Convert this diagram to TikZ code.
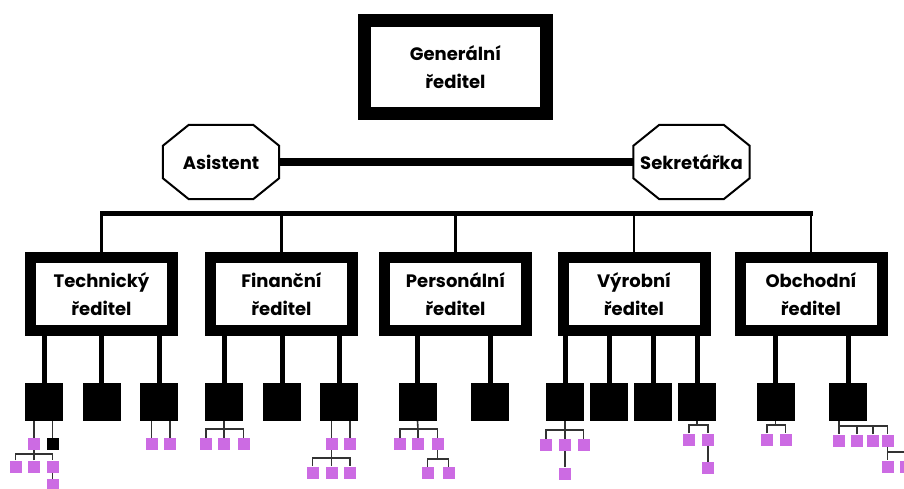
\documentclass[tikz,border=0pt]{standalone}
\usepackage{fontspec}
\setmainfont{Poppins}
\definecolor{pur}{HTML}{CC6BE3}
\newcommand\lbl{\bfseries\fontsize{18}{28}\selectfont}
\tikzset{
 big/.style={draw, line width=13pt, minimum width=182pt, minimum height=93pt, inner sep=0pt, align=center, font=\lbl},
 dir/.style={draw, line width=11pt, minimum width=142pt, minimum height=73pt, inner sep=0pt, align=center, font=\lbl},
 oct/.style={minimum width=116pt, minimum height=74pt, inner sep=0pt, font=\lbl},
 octline/.style={line width=2pt, line join=miter},
 sq/.style={fill=black, minimum size=38pt, inner sep=0pt},
 pp/.style={fill=pur, minimum size=12pt, inner sep=0pt},
 bs/.style={fill=black, minimum size=12pt, inner sep=0pt},
 thickln/.style={line width=5pt},
 thinln/.style={line width=1.6pt, draw=black!80},
 busln/.style={line width=5pt},
 dropln/.style={line width=2.5pt},
 pairln/.style={line width=8pt}
}
\begin{document}
\begin{tikzpicture}[x=1pt,y=-1pt]
\useasboundingbox (0,0) rectangle (904,489);
\clip (0,0) rectangle (904,489);
% top
\node[big] (G) at (455.5,67) {Generální\\ředitel};
\node[oct] (A) at (221,162) {Asistent};
\node[oct] (S) at (691.5,162) {Sekretářka};
\foreach \n in {A,S}{
 \draw[octline] ([xshift=26pt]\n.north west) -- ([xshift=-26pt]\n.north east) -- ([yshift=-21pt]\n.north east) -- ([yshift=21pt]\n.south east) -- ([xshift=-26pt]\n.south east) -- ([xshift=26pt]\n.south west) -- ([yshift=21pt]\n.south west) -- ([yshift=-21pt]\n.north west) -- cycle;
}
\draw[pairln] (A.east) -- (S.west);
% directors
\node[dir] (T) at (101.5,294) {Technický\\ředitel};
\node[dir] (F) at (281.5,294) {Finanční\\ředitel};
\node[dir] (P) at (455.5,294) {Personální\\ředitel};
\node[dir] (V) at (634,294) {Výrobní\\ředitel};
\node[dir] (O) at (811,294) {Obchodní\\ředitel};
\coordinate (busL) at (100,213.5);
\coordinate (busR) at (812.5,213.5);
\draw[busln] (busL) -- (busR);
\foreach \n in {T,F,P,V,O}{ \draw[dropln] (\n |- busL) -- (\n.north); }
% black squares
\node[sq] (T1) at (44,402) {};
\node[sq] (T2) at (101.5,402) {};
\node[sq] (T3) at (159,402) {};
\node[sq] (F1) at (224,402) {};
\node[sq] (F2) at (282,402) {};
\node[sq] (F3) at (339,402) {};
\node[sq] (P1) at (417.5,402) {};
\node[sq] (P2) at (490,402) {};
\node[sq] (V1) at (565,402) {};
\node[sq] (V2) at (609,402) {};
\node[sq] (V3) at (653,402) {};
\node[sq] (V4) at (697,402) {};
\node[sq] (O1) at (775.5,402) {};
\node[sq] (O2) at (848,402) {};
\foreach \p/\c in {T/T1,T/T2,T/T3,F/F1,F/F2,F/F3,P/P1,P/P2,V/V1,V/V2,V/V3,V/V4,O/O1,O/O2}{
 \draw[thickln] (\c |- \p.south) -- (\c.north);
}
% Technicky T1
\node[pp] (ta) at (34,444) {};
\node[bs] (tb) at (52.5,444) {};
\draw[thinln] (ta |- T1.south) -- (ta.north);
\draw[thinln] (tb |- T1.south) -- (tb.north);
\coordinate (tbar) at (34,454);
\node[pp] (tc1) at (15.5,466.5) {};
\node[pp] (tc2) at (34,466.5) {};
\node[pp] (tc3) at (52.5,466.5) {};
\draw[thinln] (ta.south) -- (tbar);
\draw[thinln] (tc1.north) |- (tbar) -| (tc3.north);
\draw[thinln] (tc2.north) -- (tc2 |- tbar);
\node[pp] (td) at (52.5,485) {};
\draw[thinln] (tc3.south) -- (td.north);
% Technicky T3
\node[pp] (te1) at (151.5,444) {};
\node[pp] (te2) at (170,444) {};
\draw[thinln] (te1 |- T3.south) -- (te1.north);
\draw[thinln] (te2 |- T3.south) -- (te2.north);
% Financni F1
\coordinate (fbar) at (224,429);
\node[pp] (pe1) at (206,444) {};
\node[pp] (pe2) at (224,444) {};
\node[pp] (pe3) at (243.5,444) {};
\draw[thinln] (F1.south) -- (fbar);
\draw[thinln] (pe1.north) |- (fbar) -| (pe3.north);
\draw[thinln] (pe2.north) -- (pe2 |- fbar);
% Financni F3
\node[pp] (pf1) at (331.5,444) {};
\node[pp] (pf2) at (350,444) {};
\draw[thinln] (pf1 |- F3.south) -- (pf1.north);
\draw[thinln] (pf2 |- F3.south) -- (pf2.north);
\coordinate (fbar2) at (331.5,458);
\node[pp] (pg1) at (312.5,472.5) {};
\node[pp] (pg2) at (331.5,472.5) {};
\node[pp] (pg3) at (350,472.5) {};
\draw[thinln] (pf1.south) -- (fbar2);
\draw[thinln] (pg1.north) |- (fbar2) -| (pg3.north);
\draw[thinln] (pg2.north) -- (pg2 |- fbar2);
% Personalni P1
\coordinate (pbar) at (418,429);
\node[pp] (ph1) at (400,444) {};
\node[pp] (ph2) at (418,444) {};
\node[pp] (ph3) at (437.5,444) {};
\draw[thinln] (P1.south) -- (pbar);
\draw[thinln] (ph1.north) |- (pbar) -| (ph3.north);
\draw[thinln] (ph2.north) -- (ph2 |- pbar);
\coordinate (pbar2) at (437.5,459);
\node[pp] (pi1) at (427.5,473) {};
\node[pp] (pi2) at (448.5,473) {};
\draw[thinln] (ph3.south) -- (pbar2);
\draw[thinln] (pi1.north) |- (pbar2) -| (pi2.north);
% Vyrobni V1
\coordinate (vbar) at (565,430);
\node[pp] (pj1) at (546,445) {};
\node[pp] (pj2) at (565,445) {};
\node[pp] (pj3) at (583.5,445) {};
\draw[thinln] (V1.south) -- (vbar);
\draw[thinln] (pj1.north) |- (vbar) -| (pj3.north);
\draw[thinln] (pj2.north) -- (pj2 |- vbar);
\node[pp] (pk) at (565,473.5) {};
\draw[thinln] (pj2.south) -- (pk.north);
% Vyrobni V4
\coordinate (vbar2) at (697,425);
\node[pp] (pl1) at (689,439.5) {};
\node[pp] (pl2) at (708,439.5) {};
\draw[thinln] (V4.south) -- (vbar2);
\draw[thinln] (pl1.north) |- (vbar2) -| (pl2.north);
\node[pp] (pm) at (708,468) {};
\draw[thinln] (pl2.south) -- (pm.north);
% Obchodni O1
\coordinate (obar) at (775.5,425);
\node[pp] (pn1) at (767,439.5) {};
\node[pp] (pn2) at (785.5,439.5) {};
\draw[thinln] (O1.south) -- (obar);
\draw[thinln] (pn1.north) |- (obar) -| (pn2.north);
% Obchodni O2
\coordinate (obar2) at (839,426);
\node[pp] (po1) at (839,440.5) {};
\node[pp] (po2) at (857,440.5) {};
\node[pp] (po3) at (873,440.5) {};
\node[pp] (po4) at (887.5,440.5) {};
\draw[thinln] (obar2 |- O2.south) -- (po1.north);
\draw[thinln] (obar2) -| (po4.north);
\draw[thinln] (po2.north) -- (po2 |- obar2);
\draw[thinln] (po3.north) -- (po3 |- obar2);
\coordinate (qbar) at (887.5,452);
\node[pp] (pq1) at (887.5,466.5) {};
\node[pp] (pq2) at (906,466.5) {};
\draw[thinln] (po4.south) -- (pq1.north);
\draw[thinln] (qbar) -| (pq2.north);
\end{tikzpicture}
\end{document}
